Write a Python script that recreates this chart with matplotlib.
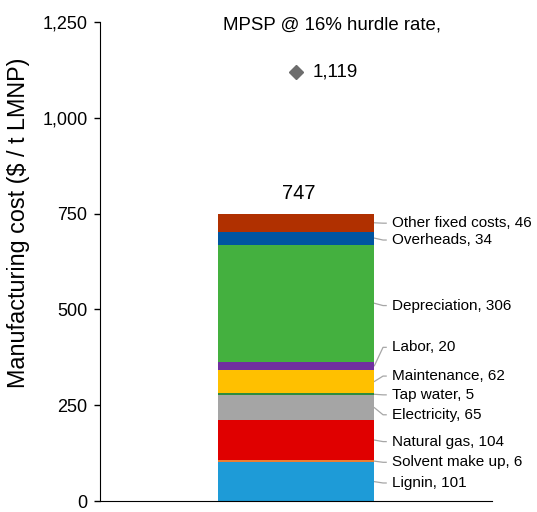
import matplotlib
matplotlib.use("Agg")
import matplotlib.pyplot as plt
from matplotlib.ticker import FuncFormatter

categories = ["Lignin", "Solvent make up", "Natural gas", "Electricity", "Tap water",
              "Maintenance", "Labor", "Depreciation", "Overheads", "Other fixed costs"]
values = [101, 6, 104, 65, 5, 62, 20, 306, 34, 46]
label_y = [47, 101, 155, 225, 277, 326, 401, 510, 681, 725]
colors = ["#1E9BD7", "#ED7D31", "#E00000", "#A5A5A5", "#2E8B3E",
          "#FFC000", "#7030A0", "#44B03F", "#0055A0", "#B03000"]
total_label = 747
mpsp = 1119
yticks = [0, 250, 500, 750, 1000, 1250]

plt.rcParams['font.family'] = ['Liberation Sans', 'DejaVu Sans']

fig = plt.figure(figsize=(5.37, 5.12), dpi=100)
ax = fig.add_axes([100/537, 11/512, 392/537, 479/512])

x0 = 0
bw = 0.4
bottom = 0
for name, v, c, ly in zip(categories, values, colors, label_y):
    ax.bar(x0, v, bottom=bottom, width=bw, color=c, edgecolor='none', zorder=2)
    mid = bottom + v / 2
    ax.plot([x0 + bw/2, x0 + bw/2 + 0.022, x0 + bw/2 + 0.03], [mid, ly, ly],
            color='#A6A6A6', lw=0.9, clip_on=False, zorder=1)
    ax.text(x0 + bw/2 + 0.045, ly, f"{name}, {v}", ha='left', va='center',
            fontsize=11, color='black', clip_on=False)
    bottom += v

ax.text(x0 + 0.008, 802, f"{total_label}", ha='center', va='center', fontsize=14.5)
ax.plot([x0], [mpsp], marker='D', color='#6D6D6D', markersize=7.5, ls='none')
ax.text(x0 + 0.043, mpsp, f"{mpsp:,}", ha='left', va='center', fontsize=13.5)
ax.text(x0 + 0.092, 1242, "MPSP @ 16% hurdle rate,", ha='center', va='center', fontsize=13.4)

ax.set_xlim(-0.5, 0.5)
ax.set_ylim(0, 1250)
ax.set_yticks(yticks)
ax.yaxis.set_major_formatter(FuncFormatter(lambda v, p: f"{int(v):,}"))
ax.tick_params(axis='y', direction='out', length=4, pad=5, labelsize=13, width=1)
ax.set_xticks([])
ax.spines['top'].set_visible(False)
ax.spines['right'].set_visible(False)
ax.spines['left'].set_color('black')
ax.spines['bottom'].set_color('black')
ax.set_ylabel("Manufacturing cost ($ / t LMNP)", fontsize=16.8)
ax.yaxis.set_label_coords(-0.178, 0.58)

fig.savefig("out.png", dpi=100)
